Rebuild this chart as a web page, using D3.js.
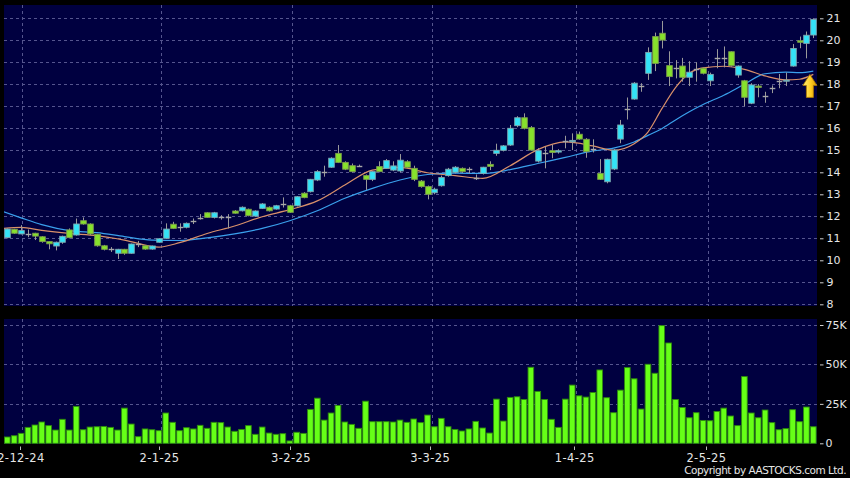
<!DOCTYPE html>
<html><head><meta charset="utf-8">
<script src="https://cdn.jsdelivr.net/npm/d3@7"></script>
<style>html,body{margin:0;padding:0;background:#000;} svg{display:block;}</style>
</head><body><svg id="c" width="850" height="478"></svg>
<script>
// ---- data ----
const opens = [11.03,11.41,11.2,11.18,11.23,11.07,10.85,10.65,10.82,11.38,
11.15,11.8,11.65,11.18,10.66,10.5,10.32,10.5,10.32,10.72,
10.66,10.51,10.82,11.0,11.64,11.53,11.5,11.77,11.94,12.16,
11.95,11.95,11.98,12.24,12.25,12.32,12.01,12.36,12.41,12.33,
12.56,12.48,12.48,13.05,13.12,13.65,14.03,14.23,14.86,14.45,
14.3,14.29,13.85,13.68,14.26,14.18,14.1,14.06,14.48,14.18,
13.6,13.35,13.07,13.39,13.85,14.0,14.18,14.14,13.76,13.95,
14.36,14.86,15.0,15.24,16.12,16.48,16.03,14.51,14.9,14.98,
14.92,15.42,15.39,15.73,15.5,15.05,13.95,13.57,14.15,15.51,
16.86,17.33,17.92,18.5,20.17,20.32,18.85,18.73,18.83,18.32,
18.68,18.73,18.16,19.21,19.21,19.48,18.42,18.16,17.14,17.92,
17.48,17.82,18.16,18.14,18.83,19.98,19.86,20.24];
const closes = [11.42,11.23,11.35,11.18,11.1,10.85,10.75,10.82,11.09,11.03,
11.65,11.65,11.2,10.66,10.5,10.5,10.5,10.32,10.74,10.72,
10.51,10.65,10.98,11.42,11.45,11.53,11.68,11.77,11.94,11.95,
12.16,11.95,11.98,12.14,12.41,12.03,12.24,12.56,12.25,12.48,
12.56,12.18,12.89,12.85,13.68,14.03,14.03,14.64,14.45,14.14,
14.03,14.29,13.68,14.03,14.03,14.53,14.29,14.55,14.23,13.68,
13.35,13.0,13.23,13.76,14.14,14.23,14.03,14.14,13.76,14.23,
14.27,15.0,15.2,16.0,16.48,16.0,15.01,14.98,14.9,14.9,
14.98,15.42,15.45,15.51,14.94,15.05,13.68,14.59,15.01,16.15,
16.86,18.05,17.92,19.45,18.95,20.01,18.35,18.73,18.32,18.55,
18.68,18.5,18.45,19.21,19.21,18.85,18.83,17.41,17.97,17.86,
17.48,17.82,18.16,18.19,19.63,19.91,20.23,20.95];
const highs = [11.45,11.43,11.6,11.4,11.25,11.1,10.87,10.85,11.12,11.45,
11.9,11.95,11.68,11.2,10.7,10.6,10.52,10.52,10.76,10.88,
10.68,10.67,11.0,11.68,11.75,11.68,11.72,11.9,12.1,12.18,
12.2,12.05,12.1,12.28,12.45,12.35,12.27,12.6,12.45,12.52,
12.86,12.52,12.92,13.1,13.7,14.1,14.3,14.68,15.24,14.5,
14.4,14.35,13.9,14.06,14.5,14.6,14.5,14.83,14.55,14.3,
13.65,13.4,13.3,13.85,14.2,14.28,14.22,14.23,13.9,14.25,
14.5,15.3,15.24,16.15,16.55,16.68,16.1,15.1,15.16,15.25,
15.05,15.66,15.77,15.85,15.55,15.5,14.6,14.62,15.05,16.38,
17.4,18.1,18.05,19.68,20.35,20.88,19.5,19.1,19.2,19.05,
19.0,18.75,18.53,19.6,19.72,19.5,18.86,18.2,18.05,18.01,
17.66,17.95,18.47,18.53,19.83,20.17,20.4,21.0];
const lows = [11.0,11.2,11.18,11.05,10.92,10.8,10.5,10.45,10.75,11.0,
11.12,11.62,11.15,10.62,10.45,10.38,10.06,10.25,10.3,10.6,
10.48,10.48,10.8,10.98,11.42,11.3,11.45,11.65,11.85,11.93,
11.9,11.85,11.45,12.12,12.22,12.0,11.98,12.33,12.22,12.3,
12.4,12.15,12.45,12.82,13.08,13.6,13.8,14.2,14.42,14.1,
14.0,14.25,13.2,13.6,14.0,14.15,14.05,14.0,14.2,13.6,
13.3,12.77,13.0,13.35,13.8,13.95,13.98,13.95,13.65,13.9,
14.1,14.75,14.95,15.2,16.05,15.95,14.98,14.45,14.18,14.64,
14.85,15.09,15.01,15.48,14.66,14.9,13.65,13.5,14.1,15.32,
16.4,17.3,17.66,18.2,18.6,19.63,17.92,18.27,18.12,17.92,
18.12,18.45,17.92,18.73,18.77,18.8,18.3,17.0,17.1,17.41,
17.16,17.6,17.82,17.92,18.8,19.64,19.18,20.1];
const volumesK = [4.0,4.8,6.3,10.1,11.6,13.5,11.2,8.4,15.2,8.4,
23.4,8.6,10.3,10.5,10.7,10.1,8.4,22.3,12.2,4.2,
9.1,8.6,8.0,19.2,13.3,8.0,9.9,9.1,11.4,9.5,
13.3,13.1,10.3,7.6,8.8,11.2,5.7,10.3,6.5,5.7,
6.1,1.5,7.0,6.3,21.5,28.6,14.7,19.2,24.0,13.5,
12.0,9.5,26.7,13.7,13.7,13.7,13.5,14.7,13.3,15.4,
13.1,17.9,10.5,15.8,10.5,8.8,7.8,9.1,13.9,9.7,
6.5,28.0,14.1,29.1,29.5,27.8,48.2,32.9,27.8,15.2,
10.1,28.0,36.9,30.1,29.3,32.2,46.5,28.9,19.4,33.7,
48.0,40.9,21.7,50.1,44.4,74.6,63.6,27.8,22.7,16.2,
19.4,14.5,14.3,20.2,22.3,17.3,11.2,42.3,19.2,16.2,
21.1,13.1,8.6,9.3,21.3,13.7,23.0,10.5];
// moving-average lines, sampled at candle indices
const maFastIdx = [-0.6,2,5,9,13,17,22,25,29,33,37,41,45,49,53,57,61,65,69,73,77,81,85,88,91,93,95,97,99,101,104,107,110,113,115,117];
const maFastVal = [11.45,11.5,11.36,11.22,11.12,10.92,10.6,10.8,11.22,11.56,11.98,12.3,12.7,13.42,14.1,14.22,13.98,13.85,13.72,14.3,15.03,15.38,15.2,15.0,15.3,15.83,16.88,17.85,18.5,18.75,18.82,18.68,18.38,18.2,18.23,18.45];
const maSlowIdx = [-0.6,2,5,9,13,17,21,25,29,33,37,41,45,49,53,57,61,65,69,73,77,81,85,88,91,93,95,97,99,101,104,107,110,113,115,117];
const maSlowVal = [12.21,11.93,11.62,11.35,11.26,11.08,10.92,10.9,11.02,11.2,11.45,11.8,12.25,12.82,13.27,13.65,13.9,13.96,13.95,14.12,14.4,14.68,14.97,15.1,15.38,15.68,15.98,16.38,16.75,17.08,17.5,18.0,18.48,18.55,18.53,18.6];
const dateTickIdx = [2.2,22.3,41.4,61.6,82.6,101.7];
const dateLabels = ["2-12-24","2-1-25","3-2-25","3-3-25","1-4-25","2-5-25"];
const priceTicks = [8,9,10,11,12,13,14,15,16,17,18,19,20,21];
const volTicks = [0,25,50,75];
const volTickLabels = ["0","25K","50K","75K"];

// ---- drawing ----
const svg = d3.select("#c");
const FONT = "'DejaVu Sans', Verdana, sans-serif";
const N = closes.length;
const x = d3.scaleLinear().domain([0, N-1]).range([7.3, 813.3]);
const step = x(1) - x(0);
const yP = d3.scaleLinear().domain([8, 21]).range([304.3, 18.3]);
const yV = d3.scaleLinear().domain([0, 75]).range([443.3, 325]);

const main = {x:4, y:5, w:813, h:301};
const vol = {x:4, y:319, w:813, h:125};

svg.append("rect").attr("width",850).attr("height",478).attr("fill","#000");
const defs = svg.append("defs");
defs.append("clipPath").attr("id","clipMain").append("rect")
  .attr("x",main.x).attr("y",main.y).attr("width",main.w).attr("height",main.h);
defs.append("clipPath").attr("id","clipVol").append("rect")
  .attr("x",vol.x).attr("y",vol.y).attr("width",vol.w).attr("height",vol.h);
const grad = defs.append("linearGradient").attr("id","arrowGrad")
  .attr("x1","0").attr("y1","0").attr("x2","1").attr("y2","0");
grad.append("stop").attr("offset","0%").attr("stop-color","#fff27a");
grad.append("stop").attr("offset","55%").attr("stop-color","#ffcc22");
grad.append("stop").attr("offset","100%").attr("stop-color","#d99a00");

const BG = "#000040", GRID = "#55558e";
svg.append("rect").attr("x",main.x).attr("y",main.y).attr("width",main.w).attr("height",main.h).attr("fill",BG);
svg.append("rect").attr("x",vol.x).attr("y",vol.y).attr("width",vol.w).attr("height",vol.h).attr("fill",BG);

// grids
const gMainGrid = svg.append("g").attr("stroke",GRID).attr("stroke-width",1).attr("stroke-dasharray","3,3");
gMainGrid.selectAll("line.h").data(priceTicks).join("line")
  .attr("x1",main.x).attr("x2",main.x+main.w)
  .attr("y1",d=>Math.round(yP(d))+0.5).attr("y2",d=>Math.round(yP(d))+0.5);
gMainGrid.selectAll("line.v").data(dateTickIdx).join("line").attr("class","v")
  .attr("x1",d=>Math.round(x(d))+0.5).attr("x2",d=>Math.round(x(d))+0.5)
  .attr("y1",main.y).attr("y2",main.y+main.h);
const gVolGrid = svg.append("g").attr("stroke",GRID).attr("stroke-width",1).attr("stroke-dasharray","3,3");
gVolGrid.selectAll("line.h").data(volTicks.filter(d=>d>0)).join("line")
  .attr("x1",vol.x).attr("x2",vol.x+vol.w)
  .attr("y1",d=>Math.round(yV(d))+0.5).attr("y2",d=>Math.round(yV(d))+0.5);
gVolGrid.selectAll("line.v").data(dateTickIdx).join("line").attr("class","v")
  .attr("x1",d=>Math.round(x(d))+0.5).attr("x2",d=>Math.round(x(d))+0.5)
  .attr("y1",vol.y).attr("y2",vol.y+vol.h);

// moving averages
const gMA = svg.append("g").attr("clip-path","url(#clipMain)").attr("fill","none");
const lineGen = d3.line().x(d=>x(d[0])).y(d=>yP(d[1])).curve(d3.curveMonotoneX);
gMA.append("path").attr("d", lineGen(maSlowIdx.map((d,i)=>[d, maSlowVal[i]])))
  .attr("stroke","#3aa0ec").attr("stroke-width",1.2);
gMA.append("path").attr("d", lineGen(maFastIdx.map((d,i)=>[d, maFastVal[i]])))
  .attr("stroke","#d9906a").attr("stroke-width",1.2);

// candles
const candles = d3.range(N).map(i=>({i, o:opens[i], h:highs[i], l:lows[i], c:closes[i]}));
const bw = 5.6;
const gC = svg.append("g").attr("clip-path","url(#clipMain)");
const cg = gC.selectAll("g").data(candles).join("g");
cg.append("line")
  .attr("x1",d=>Math.round(x(d.i))+0.5).attr("x2",d=>Math.round(x(d.i))+0.5)
  .attr("y1",d=>yP(d.h)).attr("y2",d=>yP(d.l))
  .attr("stroke","#9a9a9a").attr("stroke-width",1);
cg.filter(d=>d.o!==d.c).append("rect")
  .attr("x",d=>Math.round(x(d.i))+0.5-bw/2).attr("width",bw)
  .attr("y",d=>yP(Math.max(d.o,d.c))).attr("height",d=>Math.max(1,Math.abs(yP(d.o)-yP(d.c))))
  .attr("fill",d=>d.c>d.o?"#33e3f7":"#86e22c")
  .attr("stroke",d=>d.c>d.o?"#7fa7ae":"#7c9c4c").attr("stroke-width",0.9);
cg.filter(d=>d.o===d.c).append("line")
  .attr("x1",d=>Math.round(x(d.i))+0.5-bw/2).attr("x2",d=>Math.round(x(d.i))+0.5+bw/2)
  .attr("y1",d=>Math.round(yP(d.c))+0.5).attr("y2",d=>Math.round(yP(d.c))+0.5)
  .attr("stroke","#a8a8a8").attr("stroke-width",1.4);

// arrow marker at last moving-average value
const ax = x(N-1) - 3.4, ay = yP(maFastVal[maFastVal.length-1]);
const ap = d3.path();
ap.moveTo(ax,ay); ap.lineTo(ax+7,ay+11); ap.lineTo(ax+3.5,ay+11); ap.lineTo(ax+3.5,ay+23);
ap.lineTo(ax-3.5,ay+23); ap.lineTo(ax-3.5,ay+11); ap.lineTo(ax-7,ay+11); ap.closePath();
svg.append("path").attr("d", ap.toString())
  .attr("fill","url(#arrowGrad)").attr("stroke","#b07a00").attr("stroke-width",0.8);

// volume bars
const vbw = step*0.82;
svg.append("g").attr("clip-path","url(#clipVol)").selectAll("rect").data(volumesK).join("rect")
  .attr("x",(d,i)=>x(i)-vbw/2).attr("width",vbw)
  .attr("y",d=>yV(d)).attr("height",d=>yV(0)-yV(d))
  .attr("fill","#66ff17").attr("stroke","#2e8a0e").attr("stroke-width",0.9);

// right axes
const gAx = svg.append("g").attr("font-family",FONT).attr("font-size",11).attr("fill","#e6e6e6");
gAx.selectAll("line.p").data(priceTicks).join("line").attr("class","p")
  .attr("x1",820).attr("x2",823.5).attr("y1",d=>yP(d)+0.5).attr("y2",d=>yP(d)+0.5)
  .attr("stroke","#d0d0d0");
gAx.selectAll("text.p").data(priceTicks).join("text").attr("class","p")
  .attr("x",826.5).attr("y",d=>yP(d)).attr("dy","0.36em").text(d=>d);
gAx.selectAll("line.v").data(volTicks).join("line").attr("class","v")
  .attr("x1",820).attr("x2",823.5).attr("y1",d=>yV(d)+0.5).attr("y2",d=>yV(d)+0.5)
  .attr("stroke","#d0d0d0");
gAx.selectAll("text.v").data(volTicks).join("text").attr("class","v")
  .attr("x",825.5).attr("y",d=>yV(d)).attr("dy","0.36em").text((d,i)=>volTickLabels[i]);

// date axis
gAx.selectAll("line.d").data(dateTickIdx).join("line").attr("class","d")
  .attr("x1",d=>Math.round(x(d))-1.5).attr("x2",d=>Math.round(x(d))-1.5)
  .attr("y1",446.5).attr("y2",450).attr("stroke","#bbbbbb");
gAx.selectAll("text.d").data(dateTickIdx).join("text").attr("class","d")
  .attr("x",d=>x(d)-1.5).attr("y",461.5).attr("text-anchor","middle")
  .attr("font-size",11.5).attr("letter-spacing","0.4px").text((d,i)=>dateLabels[i]);

svg.append("text").attr("x",846).attr("y",474).attr("text-anchor","end")
  .attr("font-family",FONT).attr("font-size",10.5).attr("letter-spacing","-0.5px").attr("fill","#e6e6e6")
  .text("Copyright by AASTOCKS.com Ltd.");
</script></body></html>
